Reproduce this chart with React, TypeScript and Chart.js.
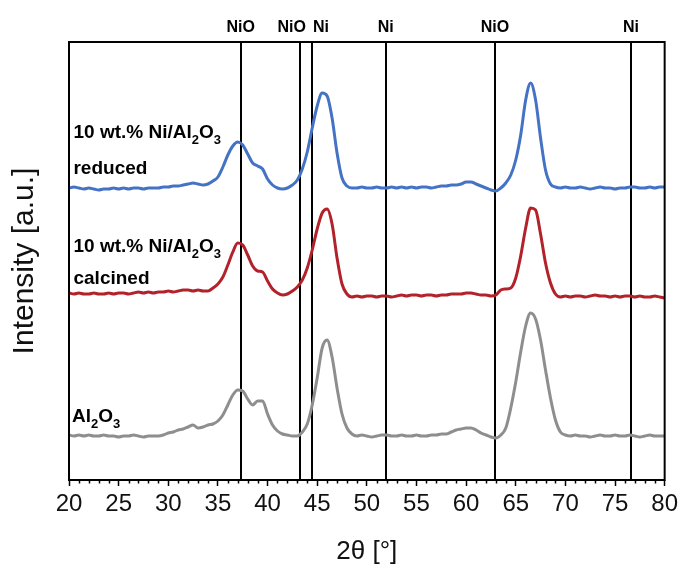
import { useEffect, useRef } from 'react';
import { Chart, registerables } from 'chart.js';

Chart.register(...registerables);

// 2θ positions (degrees)
const twoTheta = [
  20, 20.5, 21, 21.5, 22, 22.5, 23, 23.5, 24, 24.5, 25, 25.5, 26, 26.5, 27, 27.5, 28, 28.5, 29, 29.5,
  30, 30.5, 31, 31.5, 32, 32.5, 33, 33.5, 34, 34.5, 35, 35.5, 36, 36.5, 37, 37.5, 38, 38.5, 39, 39.5,
  40, 40.5, 41, 41.5, 42, 42.5, 43, 43.5, 44, 44.5, 45, 45.5, 46, 46.5, 47, 47.5, 48, 48.5, 49, 49.5,
  50, 50.5, 51, 51.5, 52, 52.5, 53, 53.5, 54, 54.5, 55, 55.5, 56, 56.5, 57, 57.5, 58, 58.5, 59, 59.5,
  60, 60.5, 61, 61.5, 62, 62.5, 63, 63.5, 64, 64.5, 65, 65.5, 66, 66.5, 67, 67.5, 68, 68.5, 69, 69.5,
  70, 70.5, 71, 71.5, 72, 72.5, 73, 73.5, 74, 74.5, 75, 75.5, 76, 76.5, 77, 77.5, 78, 78.5, 79, 79.5,
  80,
];

// Intensities (a.u.) relative to each pattern's own baseline
const al2o3 = [
  1, 0, 1, 0, 1, 0, 0, 1, 0, 0, -1, 0, 0, 1, 0, -1, 0, 0, 0, 1,
  3, 4, 6, 7, 9, 11, 8, 9, 11, 12, 15, 21, 31, 41, 46, 45, 37, 31, 35, 35,
  22, 11, 5, 2, 1, 0, 0, 4, 12, 31, 58, 88, 96, 79, 48, 22, 8, 2, 0, 1,
  0, -1, 0, 1, 1, 0, 0, 1, 0, 0, 1, 0, 0, 1, 1, 2, 2, 4, 6, 7,
  8, 8, 6, 3, 1, -1, -2, 1, 8, 28, 54, 84, 110, 123, 117, 96, 66, 38, 16, 4,
  1, 0, 1, 0, 0, -1, 0, 1, 0, 0, 1, 0, 0, 1, 0, -1, 0, 1, 0, 0,
  0,
];

const calcined = [
  3, 2, 3, 2, 2, 3, 2, 2, 3, 2, 3, 3, 2, 3, 4, 3, 4, 3, 4, 4,
  5, 4, 5, 6, 6, 5, 6, 5, 5, 8, 12, 19, 31, 44, 53, 51, 41, 30, 25, 24,
  15, 7, 3, 1, 2, 5, 9, 16, 28, 46, 67, 83, 87, 72, 38, 12, 2, -1, 0, -1,
  0, 0, -1, 0, 0, -1, 0, 1, 0, 1, 1, 0, 1, 1, 0, 1, 1, 2, 2, 2,
  3, 3, 2, 1, 1, 0, 1, 6, 7, 8, 18, 40, 68, 88, 86, 62, 33, 13, 2, -1,
  0, -1, 0, 0, -1, 0, 1, 0, 0, -1, 0, -1, 0, 0, -1, 0, -1, -1, 0, -1,
  -2,
];

const reduced = [
  0, 1, 0, -1, 0, -1, -2, -1, -1, 0, -1, 0, -1, 0, 0, -1, 0, 0, 0, 1,
  1, 2, 2, 3, 4, 5, 4, 3, 4, 7, 11, 21, 33, 42, 46, 43, 34, 25, 22, 19,
  9, 3, 0, -1, 0, 3, 8, 19, 36, 60, 82, 95, 92, 70, 35, 10, 2, 0, 0, 1,
  0, 0, 1, 0, 0, 1, 0, 1, 0, 1, 0, 1, 1, 0, 1, 2, 2, 3, 3, 4,
  6, 6, 4, 2, 0, -2, -3, 0, 5, 13, 28, 53, 88, 105, 88, 50, 18, 4, 1, 0,
  1, 0, 0, 1, 0, -1, 0, 1, 0, 0, -1, 0, 0, 1, 1, 0, 0, 1, 0, 1,
  1,
];

// vertical stacking offsets (a.u.)
const offsetAl2o3 = 44;
const offsetCalcined = 184;
const offsetReduced = 292;

// reference reflections
const refPositions = [37.3, 43.3, 44.5, 51.9, 62.9, 76.6];
const refPhases = ['NiO', 'NiO', 'Ni', 'Ni', 'NiO', 'Ni'];

const seriesNames = ['10 wt.% Ni/Al2O3 reduced', '10 wt.% Ni/Al2O3 calcined', 'Al2O3'];

// label layout (x in 2θ, y in a.u.)
const labelLayout = [
  { lines: ['10 wt.% Ni/Al2O3', 'reduced'], x: 20.45, y: [342, 306] },
  { lines: ['10 wt.% Ni/Al2O3', 'calcined'], x: 20.45, y: [228, 196] },
  { lines: ['Al2O3'], x: 20.3, y: [58] },
];

const FONT = '"Liberation Sans", Arial, Helvetica, sans-serif';

function drawRich(ctx: CanvasRenderingContext2D, text: string, x: number, y: number, size: number) {
  let cx = x;
  let prev = '';
  for (const ch of text) {
    const sub = /\d/.test(ch) && /[A-Za-z]/.test(prev);
    ctx.font = `bold ${sub ? Math.round(size * 0.68) : size}px ${FONT}`;
    ctx.fillText(ch, cx, sub ? y + size * 0.32 : y);
    cx += ctx.measureText(ch).width;
    prev = ch;
  }
}

const decorPlugin = {
  id: 'xrdDecor',
  beforeDatasetsDraw(chart: any) {
    const { ctx, chartArea, scales } = chart;
    const xs = scales.x;
    ctx.save();
    // reference lines
    ctx.strokeStyle = '#000';
    ctx.lineWidth = 2;
    refPositions.forEach((p) => {
      const px = Math.round(xs.getPixelForValue(p));
      ctx.beginPath();
      ctx.moveTo(px, chartArea.top);
      ctx.lineTo(px, chartArea.bottom);
      ctx.stroke();
    });
    // minor ticks
    ctx.lineWidth = 1.5;
    for (let v = Math.ceil(xs.min); v <= xs.max; v += 1) {
      if (v % 5 === 0) continue;
      const px = Math.round(xs.getPixelForValue(v)) + 0.5;
      ctx.beginPath();
      ctx.moveTo(px, chartArea.bottom);
      ctx.lineTo(px, chartArea.bottom + 3.5);
      ctx.stroke();
    }
    // phase labels above plot, with simple overlap resolution
    ctx.font = `bold 16px ${FONT}`;
    ctx.fillStyle = '#000';
    ctx.textAlign = 'center';
    ctx.textBaseline = 'alphabetic';
    const items = refPositions.map((p, i) => ({
      c: xs.getPixelForValue(p),
      w: ctx.measureText(refPhases[i]).width,
      t: refPhases[i],
    }));
    for (let i = 1; i < items.length; i++) {
      const a = items[i - 1];
      const b = items[i];
      const need = (a.w + b.w) / 2 + 7;
      const gap = b.c - a.c;
      if (gap < need) {
        const d = (need - gap) / 2;
        a.c -= d;
        b.c += d;
      }
    }
    items.forEach((it) => ctx.fillText(it.t, it.c, chartArea.top - 10));
    ctx.restore();
  },
  afterDatasetsDraw(chart: any) {
    const { ctx, chartArea, scales } = chart;
    ctx.save();
    ctx.strokeStyle = '#000';
    ctx.lineWidth = 2;
    ctx.strokeRect(chartArea.left, chartArea.top, chartArea.right - chartArea.left, chartArea.bottom - chartArea.top);
    ctx.fillStyle = '#000';
    ctx.textAlign = 'left';
    ctx.textBaseline = 'alphabetic';
    labelLayout.forEach((lab) => {
      lab.lines.forEach((line, i) => {
        drawRich(ctx, line, scales.x.getPixelForValue(lab.x), scales.y.getPixelForValue(lab.y[i]), 19);
      });
    });
    ctx.restore();
  },
};

export default function App() {
  const ref = useRef<HTMLCanvasElement | null>(null);

  useEffect(() => {
    if (!ref.current) return;
    const mk = (vals: number[], off: number) => twoTheta.map((x, i) => ({ x, y: vals[i] + off }));
    const chart = new Chart(ref.current, {
      type: 'line',
      data: {
        datasets: [
          { label: seriesNames[0], data: mk(reduced, offsetReduced), borderColor: '#4472C4', borderWidth: 3, pointRadius: 0, cubicInterpolationMode: 'monotone', fill: false },
          { label: seriesNames[1], data: mk(calcined, offsetCalcined), borderColor: '#B2222A', borderWidth: 3, pointRadius: 0, cubicInterpolationMode: 'monotone', fill: false },
          { label: seriesNames[2], data: mk(al2o3, offsetAl2o3), borderColor: '#8E8E8E', borderWidth: 3, pointRadius: 0, cubicInterpolationMode: 'monotone', fill: false },
        ],
      },
      options: {
        animation: false,
        responsive: true,
        maintainAspectRatio: false,
        layout: { padding: { top: 42, right: 16, left: 0, bottom: 0 } },
        plugins: { legend: { display: false }, tooltip: { enabled: false } },
        scales: {
          x: {
            type: 'linear',
            min: 20,
            max: 80,
            ticks: { stepSize: 5, color: '#111', font: { family: FONT, size: 24 }, padding: 4, maxRotation: 0, autoSkip: false },
            grid: { display: true, drawOnChartArea: false, drawTicks: true, tickLength: 6, tickWidth: 1.5, tickColor: '#000' },
            border: { display: false },
            title: { display: true, text: '2θ [°]', color: '#111', font: { family: FONT, size: 26 }, padding: { top: 0, bottom: 1 } },
            afterFit: (s: any) => { s.height = 88; },
          },
          y: {
            min: 0,
            max: 438,
            ticks: { display: false },
            grid: { display: false },
            border: { display: false },
            title: { display: true, text: 'Intensity [a.u.]', color: '#111', font: { family: FONT, size: 30 }, padding: { top: 7, bottom: 0 } },
            afterFit: (s: any) => { s.width = 69; },
          },
        },
      },
      plugins: [decorPlugin],
    } as any);
    return () => chart.destroy();
  }, []);

  return (
    <div style={{ position: 'fixed', left: 0, top: 0, width: 682, height: 568, background: '#fff' }}>
      <canvas ref={ref} />
    </div>
  );
}
